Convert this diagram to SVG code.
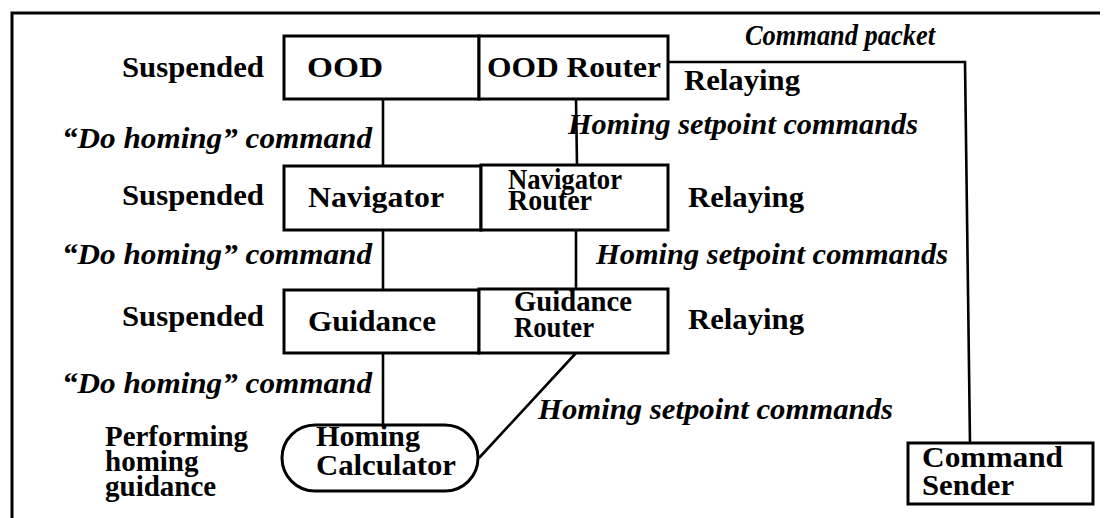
<svg xmlns="http://www.w3.org/2000/svg" width="1105" height="518" viewBox="0 0 1105 518">
  <style>
    .box { fill: #fff; stroke: #000; stroke-width: 3; }
    .wire { fill: none; stroke: #000; stroke-width: 2.6; }
    .frame { fill: none; stroke: #000; stroke-width: 3; }
    .lbl { font-family: "Liberation Serif", "Times New Roman", serif; font-weight: bold; font-size: 29px; fill: #000; }
    .cmd { font-family: "Liberation Serif", "Times New Roman", serif; font-weight: bold; font-style: italic; font-size: 29px; fill: #000; }
  </style>
  <rect width="1105" height="518" fill="#fff"/>

  <!-- outer frame -->
  <path class="frame" d="M12 518 V13 H1100"/>

  <!-- connectors -->
  <g id="connectors">
    <line class="wire" x1="383" y1="99" x2="383" y2="166"/>
    <line class="wire" x1="576" y1="99" x2="577" y2="165"/>
    <line class="wire" x1="383" y1="230" x2="383" y2="290"/>
    <line class="wire" x1="576" y1="230" x2="576" y2="289"/>
    <line class="wire" x1="383" y1="353" x2="383" y2="425"/>
    <line class="wire" x1="576" y1="353" x2="479" y2="458"/>
    <polyline class="wire" points="668,62 965,62 970,443"/>
  </g>

  <!-- state and message labels -->
  <g id="labels">
    <text class="lbl" x="264" y="77" text-anchor="end" textLength="142" lengthAdjust="spacingAndGlyphs">Suspended</text>
    <text class="cmd" x="745" y="45" textLength="190" lengthAdjust="spacingAndGlyphs">Command packet</text>
    <text class="lbl" x="684" y="90" textLength="116" lengthAdjust="spacingAndGlyphs">Relaying</text>
    <text class="cmd" x="62" y="148" textLength="310" lengthAdjust="spacingAndGlyphs">“Do homing” command</text>
    <text class="cmd" x="568" y="134" textLength="350" lengthAdjust="spacingAndGlyphs">Homing setpoint commands</text>

    <text class="lbl" x="264" y="205" text-anchor="end" textLength="142" lengthAdjust="spacingAndGlyphs">Suspended</text>
    <text class="lbl" x="688" y="207" textLength="116" lengthAdjust="spacingAndGlyphs">Relaying</text>
    <text class="cmd" x="62" y="264" textLength="310" lengthAdjust="spacingAndGlyphs">“Do homing” command</text>
    <text class="cmd" x="596" y="264" textLength="352" lengthAdjust="spacingAndGlyphs">Homing setpoint commands</text>

    <text class="lbl" x="264" y="326" text-anchor="end" textLength="142" lengthAdjust="spacingAndGlyphs">Suspended</text>
    <text class="lbl" x="688" y="329" textLength="116" lengthAdjust="spacingAndGlyphs">Relaying</text>
    <text class="cmd" x="62" y="393" textLength="310" lengthAdjust="spacingAndGlyphs">“Do homing” command</text>
    <text class="cmd" x="538" y="419" textLength="355" lengthAdjust="spacingAndGlyphs">Homing setpoint commands</text>

    <text class="lbl" x="105" y="446" textLength="143" lengthAdjust="spacingAndGlyphs">Performing</text>
    <text class="lbl" x="105" y="471">homing</text>
    <text class="lbl" x="105" y="496">guidance</text>
  </g>

  <!-- nodes -->
  <g id="ood">
    <rect class="box" x="284" y="36" width="195" height="63"/>
    <text class="lbl" x="307" y="77" textLength="76" lengthAdjust="spacingAndGlyphs">OOD</text>
  </g>
  <g id="ood-router">
    <rect class="box" x="479" y="36" width="189" height="63"/>
    <text class="lbl" x="487" y="77" textLength="174" lengthAdjust="spacingAndGlyphs">OOD Router</text>
  </g>
  <g id="navigator">
    <rect class="box" x="284" y="166" width="197" height="64"/>
    <text class="lbl" x="308" y="207" textLength="136" lengthAdjust="spacingAndGlyphs">Navigator</text>
  </g>
  <g id="navigator-router">
    <rect class="box" x="481" y="165" width="187" height="65"/>
    <text class="lbl" x="508" y="189" textLength="114" lengthAdjust="spacingAndGlyphs">Navigator</text>
    <text class="lbl" x="508" y="210" textLength="84" lengthAdjust="spacingAndGlyphs">Router</text>
  </g>
  <g id="guidance">
    <rect class="box" x="284" y="290" width="195" height="63"/>
    <text class="lbl" x="308" y="331" textLength="128" lengthAdjust="spacingAndGlyphs">Guidance</text>
  </g>
  <g id="guidance-router">
    <rect class="box" x="479" y="289" width="189" height="64"/>
    <text class="lbl" x="514" y="311" textLength="118" lengthAdjust="spacingAndGlyphs">Guidance</text>
    <text class="lbl" x="514" y="337" textLength="80" lengthAdjust="spacingAndGlyphs">Router</text>
  </g>
  <g id="homing-calculator">
    <rect class="box" x="282" y="425" width="196" height="66" rx="33" ry="33"/>
    <text class="lbl" x="316" y="446" textLength="104" lengthAdjust="spacingAndGlyphs">Homing</text>
    <text class="lbl" x="316" y="475" textLength="140" lengthAdjust="spacingAndGlyphs">Calculator</text>
  </g>
  <g id="command-sender">
    <rect class="box" x="908" y="443" width="185" height="61"/>
    <text class="lbl" x="922" y="467" textLength="141" lengthAdjust="spacingAndGlyphs">Command</text>
    <text class="lbl" x="922" y="495" textLength="92" lengthAdjust="spacingAndGlyphs">Sender</text>
  </g>
</svg>
